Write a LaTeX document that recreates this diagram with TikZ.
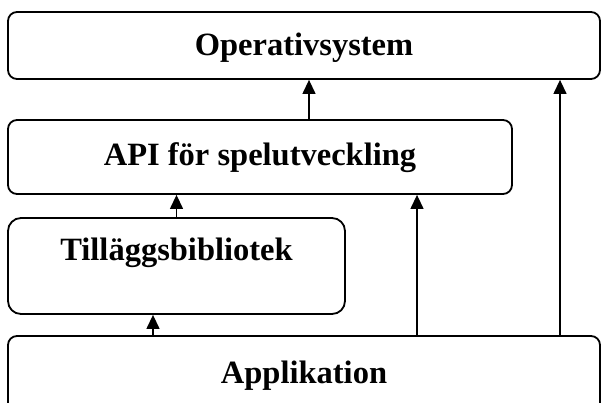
\documentclass[tikz,border=0pt]{standalone}
\usepackage{fontspec}
\newfontfamily\layerfont{Liberation Serif}
\usepackage{tikz}
\usetikzlibrary{arrows.meta, positioning, calc}
\tikzset{
  % Rounded layer box
  layer/.style={
    rectangle, draw=black, line width=1.8pt,
    rounded corners=9pt, fill=white,
    inner sep=0pt, align=center
  },
  % Layer caption
  caption/.style={font=\layerfont\bfseries\fontsize{32.5}{35}\selectfont, inner sep=0pt},
  % Arrows
  arr/.style={-{Triangle[length=14pt,width=13pt]}, line width=1.3pt, black},
}

\begin{document}
\begin{tikzpicture}[x=1pt, y=-1pt]
  \useasboundingbox (0,0) rectangle (601,402);

  \node[layer, minimum width=592pt, minimum height=67pt] (os) at (304,45.5) {};
  \node[caption] (ostxt) at ([yshift=-2pt]os.center) {Operativsystem};

  \node[layer, minimum width=504pt, minimum height=74pt] (api) at (260,157) {};
  \node[caption] (apitxt) at ([yshift=-1pt]api.center) {API för spelutveckling};

  \node[layer, rounded corners=13pt, minimum width=337pt, minimum height=96pt] (lib) at (176.5,266) {};
  \node[caption] (libtxt) at ([yshift=-36pt]lib.north) {Tilläggsbibliotek};

  \node[layer, minimum width=592pt, minimum height=78pt] (app) at (304,375) {};
  \node[caption] (apptxt) at ([yshift=-1pt]app.center) {Applikation};

  %% Arrows
  \draw[arr] ([xshift=49pt]api.north) -- ([xshift=49pt]api.north |- os.south);
  \draw[arr] (lib.north) -- (lib.north |- api.south);
  \draw[arr] ([xshift=-23.5pt]lib.south |- app.north) -- ([xshift=-23.5pt]lib.south);
  \draw[arr] ([xshift=113pt]app.north) -- ([xshift=113pt]app.north |- api.south);
  \draw[arr] ([xshift=256pt]app.north) -- ([xshift=256pt]app.north |- os.south);
\end{tikzpicture}
\end{document}
